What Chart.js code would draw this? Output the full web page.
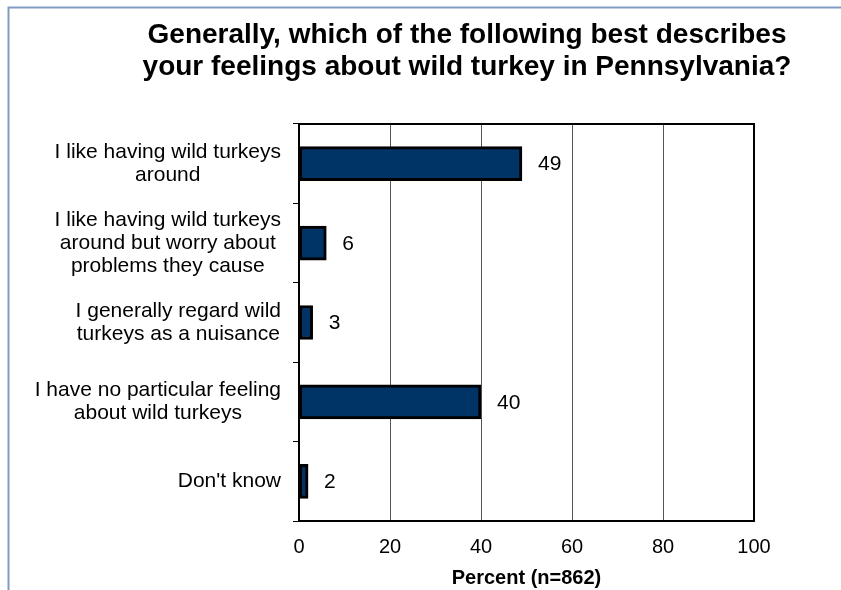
<!DOCTYPE html>
<html>
<head>
<meta charset="utf-8">
<script src="https://cdn.jsdelivr.net/npm/chart.js@4/dist/chart.umd.min.js"></script>
<style>
  html, body { margin: 0; padding: 0; background: #fff; }
  #wrap { width: 841px; height: 590px; position: relative; }
</style>
</head>
<body>
<div id="wrap"><canvas id="c" width="841" height="590"></canvas></div>
<script>
const titleLines = ["Generally, which of the following best describes", "your feelings about wild turkey in Pennsylvania?"];
const categories = [
  ["I like having wild turkeys", "around"],
  ["I like having wild turkeys", "around but worry about", "problems they cause"],
  ["I generally regard wild", "turkeys as a nuisance"],
  ["I have no particular feeling", "about wild turkeys"],
  ["Don't know"]
];
const percentValues = [49, 6, 3, 40, 2];
const xTicks = [0, 20, 40, 60, 80, 100];
const xAxisTitle = "Percent (n=862)";

const FONT = "'Liberation Sans', Arial, sans-serif";

const framePlugin = {
  id: 'frame',
  beforeDraw(chart) {
    const ctx = chart.ctx;
    ctx.save();
    ctx.fillStyle = '#fff';
    ctx.fillRect(0, 0, chart.width, chart.height);
    ctx.strokeStyle = '#7f9cc0';
    ctx.lineWidth = 2;
    ctx.beginPath();
    ctx.moveTo(8.5, chart.height);
    ctx.lineTo(8.5, 7.5);
    ctx.lineTo(chart.width, 7.5);
    ctx.stroke();

    // title
    ctx.font = "bold 28px " + FONT;
    ctx.fillStyle = '#000';
    ctx.textAlign = 'center';
    ctx.textBaseline = 'middle';
    titleLines.forEach((t, i) => ctx.fillText(t, 467, 35 + i * 32));
    ctx.restore();
  },
  afterDatasetsDraw(chart) {
    const ctx = chart.ctx;
    const a = chart.chartArea;
    ctx.save();
    ctx.strokeStyle = '#000';
    ctx.lineWidth = 2;
    ctx.strokeRect(a.left, a.top, a.right - a.left, a.bottom - a.top);
    ctx.restore();

    // category labels (right-aligned blocks, centered lines)
    const ys = chart.scales.y;
    ctx.save();
    ctx.font = "21px " + FONT;
    ctx.fillStyle = '#000';
    ctx.textBaseline = 'middle';
    ctx.textAlign = 'center';
    const lh = 23;
    const rightEdge = a.left - 18;
    categories.forEach((lines, i) => {
      const cy = ys.getPixelForValue(i);
      let maxW = 0;
      lines.forEach(l => { maxW = Math.max(maxW, ctx.measureText(l).width); });
      const cx = rightEdge - maxW / 2;
      const y0 = cy - (lines.length - 1) * lh / 2;
      lines.forEach((l, j) => ctx.fillText(l, cx, y0 + j * lh));
    });
    ctx.restore();

    // value labels
    const xs = chart.scales.x;
    ctx.save();
    ctx.font = "21px " + FONT;
    ctx.fillStyle = '#000';
    ctx.textBaseline = 'middle';
    ctx.textAlign = 'left';
    percentValues.forEach((v, i) => {
      ctx.fillText(String(v), xs.getPixelForValue(v) + 16, ys.getPixelForValue(i) + 1);
    });
    ctx.restore();
  }
};

new Chart(document.getElementById('c'), {
  type: 'bar',
  data: {
    labels: categories.map(c => c.join(' ')),
    datasets: [{
      data: percentValues,
      backgroundColor: '#003366',
      borderColor: '#000',
      borderWidth: 3,
      borderSkipped: false,
      barThickness: 34
    }]
  },
  options: {
    indexAxis: 'y',
    responsive: false,
    animation: false,
    devicePixelRatio: 1,
    layout: { padding: { left: 94, right: 87, top: 124, bottom: 0 } },
    plugins: {
      legend: { display: false },
      tooltip: { enabled: false },
      title: { display: false }
    },
    scales: {
      x: {
        min: 0, max: 100,
        afterBuildTicks(scale) { scale.ticks = xTicks.map(v => ({ value: v })); },
        afterFit(scale) { scale.height = 69; },
        grid: { color: '#555', lineWidth: 1, drawTicks: false },
        border: { display: true, color: '#000', width: 2 },
        ticks: { color: '#000', padding: 14, font: { family: FONT, size: 20 } },
        title: {
          display: true, text: xAxisTitle, color: '#000',
          font: { family: FONT, size: 20, weight: 'bold', lineHeight: 1.2 },
          padding: { top: 0, bottom: 0 }
        }
      },
      y: {
        afterFit(scale) { scale.width = 205; },
        grid: { color: '#000', lineWidth: 1, drawOnChartArea: false, drawTicks: true, tickLength: 6, offset: true },
        border: { display: true, color: '#000', width: 2 },
        ticks: { display: false }
      }
    }
  },
  plugins: [framePlugin]
});
</script>
</body>
</html>
